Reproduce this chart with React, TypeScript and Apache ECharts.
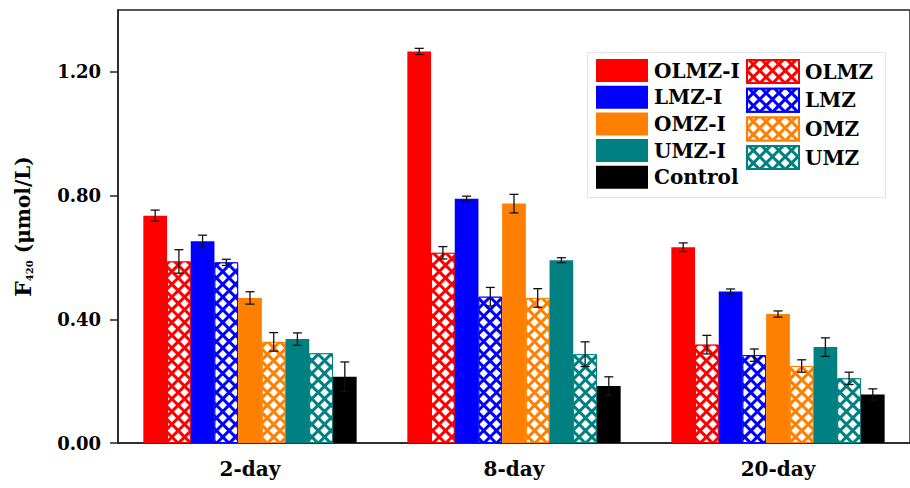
import React, { useEffect, useRef } from "react";
import * as echarts from "echarts";

const categories = ["2-day", "8-day", "20-day"];
const seriesNames = ["OLMZ-I", "OLMZ", "LMZ-I", "LMZ", "OMZ-I", "OMZ", "UMZ-I", "UMZ", "Control"];
const seriesColors = ["#ff0000", "#ff0000", "#0000ff", "#0000ff", "#ff8000", "#ff8000", "#008080", "#008080", "#000000"];
const hatched = [false, true, false, true, false, true, false, true, false];

const valOLMZI = [0.735, 1.266, 0.633];
const valOLMZ = [0.587, 0.615, 0.318];
const valLMZI = [0.652, 0.79, 0.49];
const valLMZ = [0.584, 0.473, 0.284];
const valOMZI = [0.469, 0.774, 0.417];
const valOMZ = [0.327, 0.469, 0.249];
const valUMZI = [0.336, 0.591, 0.31];
const valUMZ = [0.29, 0.287, 0.209];
const valControl = [0.214, 0.184, 0.157];

const errOLMZI = [0.018, 0.01, 0.014];
const errOLMZ = [0.038, 0.02, 0.03];
const errLMZI = [0.02, 0.008, 0.008];
const errLMZ = [0.01, 0.03, 0.02];
const errOMZI = [0.02, 0.03, 0.01];
const errOMZ = [0.03, 0.03, 0.02];
const errUMZI = [0.02, 0.008, 0.03];
const errUMZ = [0.0, 0.04, 0.02];
const errControl = [0.048, 0.03, 0.018];

const values = [valOLMZI, valOLMZ, valLMZI, valLMZ, valOMZI, valOMZ, valUMZI, valUMZ, valControl];
const errors = [errOLMZI, errOLMZ, errLMZI, errLMZ, errOMZI, errOMZ, errUMZI, errUMZ, errControl];

const yTicks = [0, 0.4, 0.8, 1.2];
const legendLeft = ["OLMZ-I", "LMZ-I", "OMZ-I", "UMZ-I", "Control"];
const legendRight = ["OLMZ", "LMZ", "OMZ", "UMZ"];

const FONT = "DejaVu Serif";
const CAT_GAP = 0.192;

export default function App() {
  const ref = useRef<HTMLDivElement>(null);
  useEffect(() => {
    if (!ref.current) return;
    const chart = echarts.init(ref.current, null, { renderer: "svg" });

    const barSeries = seriesNames.map((name, i) => ({
      name,
      type: "bar",
      data: values[i],
      barGap: "0%",
      barCategoryGap: CAT_GAP * 100 + "%",
      itemStyle: hatched[i]
        ? {
            color: seriesColors[i],
            borderColor: seriesColors[i],
            borderWidth: 1,
            decal: {
              symbol: "rect",
              symbolSize: 1,
              dashArrayX: [[6, 2.4]],
              dashArrayY: [6, 2.4],
              rotation: Math.PI / 4,
              color: "#ffffff",
            },
          }
        : { color: seriesColors[i] },
      z: 2,
    }));

    const errData: number[][] = [];
    values.forEach((vals, s) => {
      vals.forEach((v, c) => {
        errData.push([c, s, v, errors[s][c]]);
      });
    });

    const errSeries = {
      type: "custom",
      name: "err",
      data: errData,
      encode: { x: 0, y: 2 },
      z: 5,
      renderItem: (params: any, api: any) => {
        const c = api.value(0);
        const s = api.value(1);
        const v = api.value(2);
        const e = api.value(3);
        if (!e) return null;
        const band = api.size([1, 0])[0];
        const bw = (band * (1 - CAT_GAP)) / seriesNames.length;
        const cx = api.coord([c, v])[0] + (s - (seriesNames.length - 1) / 2) * bw;
        const yt = api.coord([c, v + e])[1];
        const yb = api.coord([c, v - e])[1];
        const hw = 4.5;
        const st = { stroke: "#111", lineWidth: 1.3 };
        return {
          type: "group",
          children: [
            { type: "line", shape: { x1: cx, y1: yt, x2: cx, y2: yb }, style: st },
            { type: "line", shape: { x1: cx - hw, y1: yt, x2: cx + hw, y2: yt }, style: st },
            { type: "line", shape: { x1: cx - hw, y1: yb, x2: cx + hw, y2: yb }, style: st },
          ],
        };
      },
    };

    const legendCommon = {
      orient: "vertical",
      top: 59,
      padding: 0,
      itemWidth: 52,
      itemHeight: 23,
      itemGap: 3.7,
      selectedMode: false,
      icon: "rect",
      textStyle: { fontFamily: FONT, fontWeight: "bold", fontSize: 20, color: "#000", padding: [0, 0, 0, 1] },
    };

    chart.setOption({
      animation: false,
      backgroundColor: "#ffffff",
      grid: {
        left: 118,
        top: 10,
        width: 795,
        height: 433,
        show: true,
        borderColor: "#222",
        borderWidth: 1.5,
        backgroundColor: "transparent",
      },
      graphic: [
        {
          type: "rect",
          z: 3,
          shape: { x: 587.5, y: 52.5, width: 298, height: 145 },
          style: { fill: "#ffffff", stroke: "#e4e4e4", lineWidth: 1 },
        },
      ],
      legend: [
        { ...legendCommon, left: 596, data: legendLeft },
        { ...legendCommon, left: 746, data: legendRight },
      ],
      xAxis: {
        type: "category",
        data: categories,
        axisLine: { lineStyle: { color: "#222", width: 1.5 } },
        axisTick: { alignWithLabel: true, length: 7, lineStyle: { color: "#222", width: 1.5 } },
        axisLabel: { fontFamily: FONT, fontWeight: "bold", fontSize: 20, color: "#000", margin: 16 },
      },
      yAxis: {
        type: "value",
        min: 0,
        max: 1.4,
        interval: 0.4,
        splitLine: { show: false },
        axisLine: { show: true, lineStyle: { color: "#222", width: 1.5 } },
        axisTick: { show: true, length: 8, customValues: yTicks, lineStyle: { color: "#222", width: 1.5 } },
        axisLabel: {
          customValues: yTicks,
          fontFamily: FONT,
          fontWeight: "bold",
          fontSize: 18,
          color: "#000",
          margin: 17,
          formatter: (v: number) => v.toFixed(2),
        },
        name: "{f|F}{s|420}{u| (μmol/L)}",
        nameLocation: "middle",
        nameGap: 84,
        nameTextStyle: {
          fontFamily: FONT,
          fontWeight: "bold",
          color: "#000",
          rich: {
            f: { fontFamily: FONT, fontWeight: "bold", fontSize: 22, color: "#000" },
            s: { fontFamily: FONT, fontWeight: "bold", fontSize: 10, color: "#000", verticalAlign: "bottom" },
            u: { fontFamily: FONT, fontWeight: "bold", fontSize: 20, color: "#000" },
          },
        },
      },
      series: [...barSeries, errSeries],
    });

    return () => chart.dispose();
  }, []);

  return (
    <div
      ref={ref}
      style={{ position: "fixed", left: 0, top: 0, width: 910, height: 488, background: "#fff" }}
    />
  );
}
